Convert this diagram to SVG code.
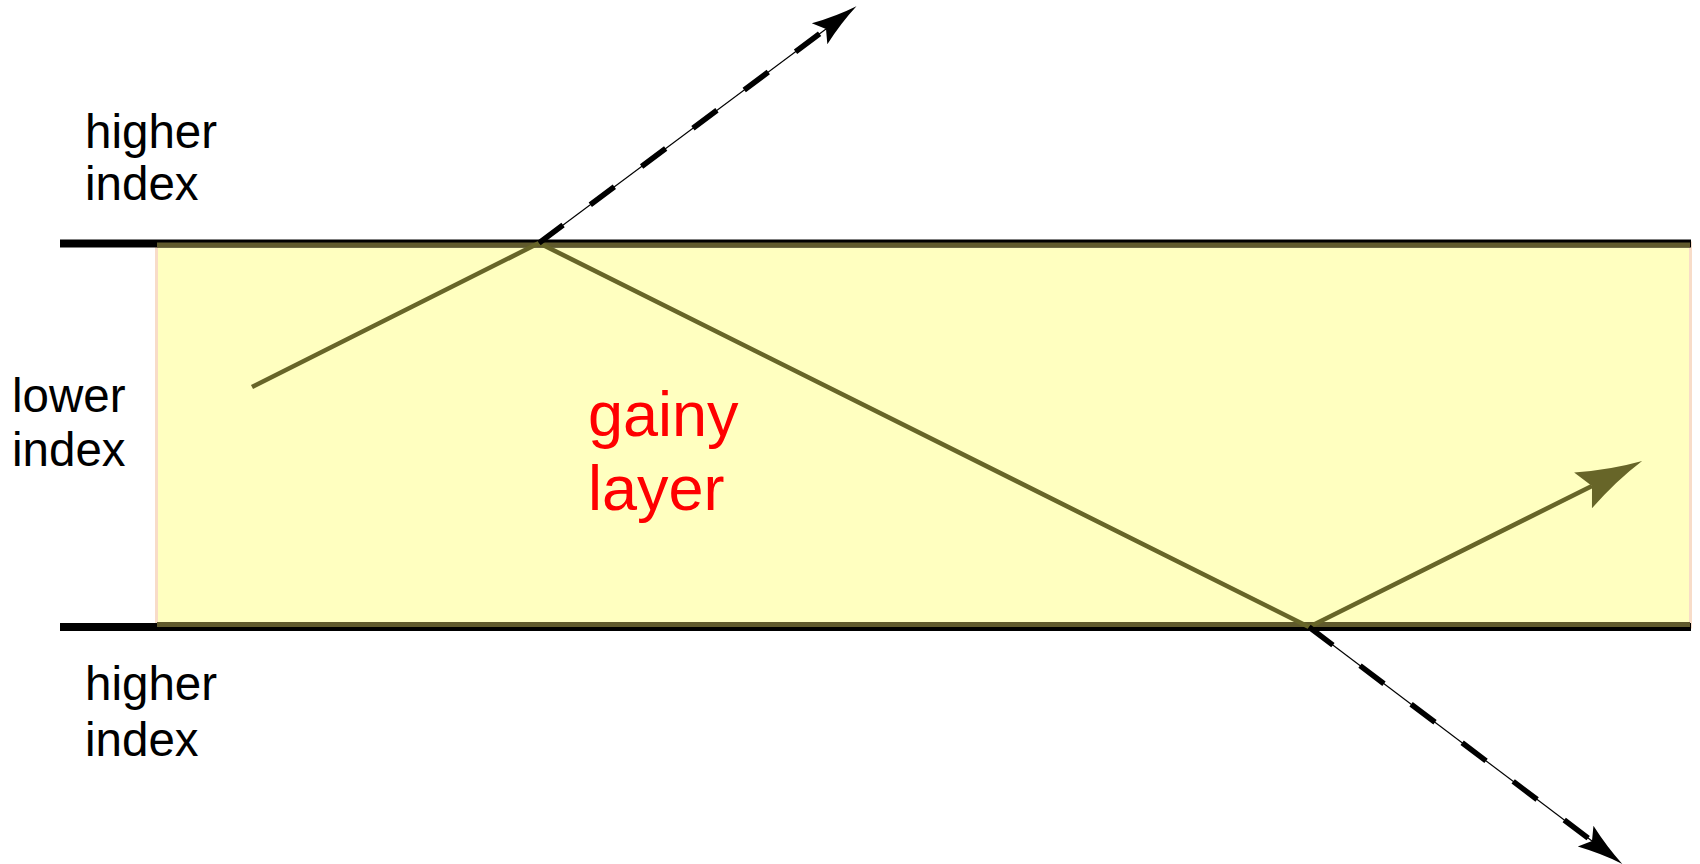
<svg xmlns="http://www.w3.org/2000/svg" width="1700" height="864" viewBox="0 0 1700 864">
<style>
.lbl{font-family:"Liberation Sans",Arial,sans-serif;font-size:47.5px;fill:#000}
.red{font-family:"Liberation Sans",Arial,sans-serif;font-size:63px;fill:#ff0000}
.ray{fill:none;stroke:#676528;stroke-width:4.6}
.thin{fill:none;stroke:#000;stroke-width:1.2}
.dash{fill:none;stroke:#000;stroke-width:5.5;stroke-dasharray:30 34}
</style>
<defs>
<marker id="ah-olive" markerUnits="userSpaceOnUse" viewBox="-70 -24 74 48" markerWidth="74" markerHeight="48" refX="-56" refY="0" orient="auto">
<path d="M0,0 Q-32,-6 -66,-20 L-56,0 L-66,20 Q-32,6 0,0 Z" fill="#676528"/>
</marker>
<marker id="ah-black" markerUnits="userSpaceOnUse" viewBox="-50 -16 54 32" markerWidth="54" markerHeight="32" refX="-38" refY="0" orient="auto">
<path d="M0,0 Q-22,-4 -46,-13 L-38,0 L-46,13 Q-22,4 0,0 Z" fill="#000"/>
</marker>
</defs>
<g id="layer">
<rect x="156.5" y="243" width="1534" height="384" fill="#ffffc0" stroke="#f8dcc8" stroke-width="3"/>
<line x1="60" y1="243.5" x2="1691" y2="243.5" stroke="#000" stroke-width="8"/>
<line x1="60" y1="627" x2="1691" y2="627" stroke="#000" stroke-width="8"/>
<line x1="157" y1="245" x2="1690" y2="245" stroke="#605a2c" stroke-width="5"/>
<line x1="157" y1="624.5" x2="1690" y2="624.5" stroke="#605a2c" stroke-width="5"/>
</g>
<g id="labels">
<text class="lbl" x="85" y="148">higher</text>
<text class="lbl" x="85" y="200">index</text>
<text class="lbl" x="12" y="412">lower</text>
<text class="lbl" x="12" y="466">index</text>
<text class="lbl" x="85" y="700">higher</text>
<text class="lbl" x="85" y="756">index</text>
<text class="red" x="588" y="436">gainy</text>
<text class="red" x="588" y="510">layer</text>
</g>
<g id="connectors">
<path class="ray" d="M252,387 L539,243 L1309,627 L1592,486" marker-end="url(#ah-olive)"/>
<path class="thin" d="M539,243 L826,29" marker-end="url(#ah-black)"/>
<path class="dash" d="M539,243 L826,29"/>
<path class="thin" d="M1309,627 L1592,841" marker-end="url(#ah-black)"/>
<path class="dash" d="M1309,627 L1592,841"/>
</g>
</svg>
